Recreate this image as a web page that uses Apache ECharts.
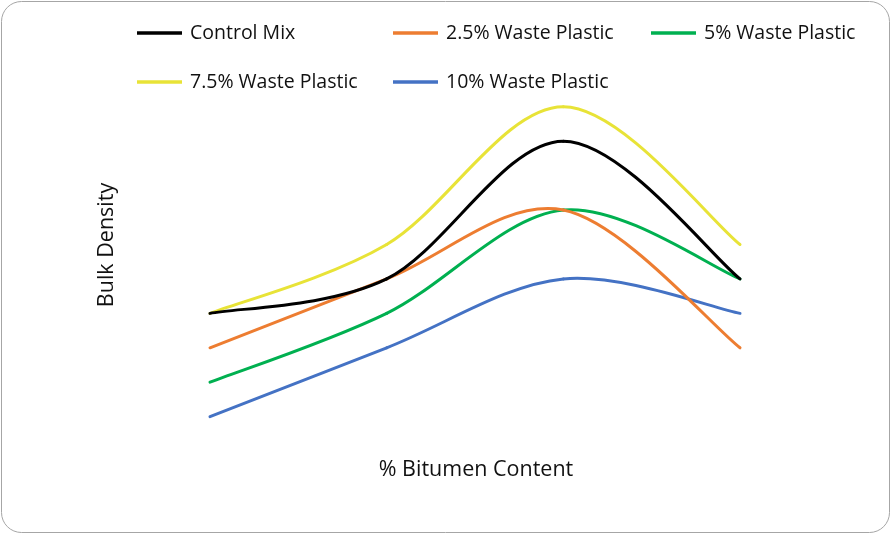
<!DOCTYPE html>
<html>
<head>
<meta charset="utf-8">
<script src="https://cdn.jsdelivr.net/npm/echarts@6/dist/echarts.min.js"></script>
<style>
  html, body { margin: 0; padding: 0; background: #ffffff; }
  #chart { width: 891px; height: 534px; }
</style>
</head>
<body>
<div id="chart"></div>
<script>
// Bitumen content steps (%), one point per step
const bitumenContent = ['4.5', '5.0', '5.5', '6.0'];

// Bulk density (g/cc) per mix
const controlMix   = [2.33, 2.34, 2.38, 2.34];
const plastic2_5   = [2.32, 2.34, 2.36, 2.32];
const plastic5     = [2.31, 2.33, 2.36, 2.34];
const plastic7_5   = [2.33, 2.35, 2.39, 2.35];
const plastic10    = [2.30, 2.32, 2.34, 2.33];

const seriesNames = ['Control Mix', '2.5% Waste Plastic', '5% Waste Plastic', '7.5% Waste Plastic', '10% Waste Plastic'];
const seriesData  = [controlMix, plastic2_5, plastic5, plastic7_5, plastic10];
const seriesColors = ['#000000', '#ED7D31', '#00B050', '#E8E337', '#4472C4'];

const FONT = 'Open Sans';
const TEXT_COLOR = '#111111';

// One legend block per entry so the entries line up in fixed columns
const legendSlots = [
  { left: 137, top: 22 },
  { left: 393, top: 22 },
  { left: 651, top: 22 },
  { left: 137, top: 71 },
  { left: 393, top: 71 }
];

// Spreadsheet-style smoothed line: each segment is a cubic Bezier whose
// control points follow the neighbouring points (Catmull-Rom, tension 1/6).
function smoothSegmentRenderer(values, color) {
  return function (params, api) {
    const i = params.dataIndex;
    const n = values.length;
    if (i >= n - 1) return null;
    const pt = (k) => {
      const kk = Math.max(0, Math.min(n - 1, k));
      return api.coord([kk, values[kk]]);
    };
    const p0 = pt(i - 1), p1 = pt(i), p2 = pt(i + 1), p3 = pt(i + 2);
    return {
      type: 'bezierCurve',
      shape: {
        x1: p1[0], y1: p1[1],
        x2: p2[0], y2: p2[1],
        cpx1: p1[0] + (p2[0] - p0[0]) / 6,
        cpy1: p1[1] + (p2[1] - p0[1]) / 6,
        cpx2: p2[0] - (p3[0] - p1[0]) / 6,
        cpy2: p2[1] - (p3[1] - p1[1]) / 6
      },
      style: { stroke: color, lineWidth: 3, fill: null, lineCap: 'round' }
    };
  };
}

const chart = echarts.init(document.getElementById('chart'), null, { renderer: 'canvas' });

const option = {
  backgroundColor: '#ffffff',
  animation: false,
  legend: seriesNames.map((name, i) => ({
    data: [name],
    left: legendSlots[i].left,
    top: legendSlots[i].top,
    padding: 0,
    icon: 'rect',
    itemWidth: 45,
    itemHeight: 3.5,
    selectedMode: false,
    textStyle: { fontFamily: FONT, fontSize: 19.5, color: TEXT_COLOR, lineHeight: 22, padding: [0, 0, 0, 3] }
  })),
  grid: { left: 210, right: 151, top: 72.3, bottom: 82.9, containLabel: false },
  xAxis: {
    type: 'category',
    data: bitumenContent,
    boundaryGap: false,
    axisLine: { show: false },
    axisTick: { show: false },
    axisLabel: { show: false },
    splitLine: { show: false }
  },
  yAxis: {
    type: 'value',
    min: 2.29,
    max: 2.40,
    axisLine: { show: false },
    axisTick: { show: false },
    axisLabel: { show: false },
    splitLine: { show: false }
  },
  series: seriesNames.map((name, i) => ({
    name: name,
    type: 'custom',
    data: seriesData[i].map((v, k) => [k, v]),
    encode: { x: 0, y: 1 },
    renderItem: smoothSegmentRenderer(seriesData[i], seriesColors[i]),
    clip: false,
    itemStyle: { color: seriesColors[i] },
    z: 10 - i
  })),
  graphic: [
    {
      type: 'rect',
      shape: { x: 1.5, y: 1.5, width: 888, height: 531, r: 20 },
      style: { fill: 'none', stroke: '#a6a6a6', lineWidth: 1 },
      silent: true
    },
    {
      type: 'text',
      x: 107, y: 245,
      rotation: Math.PI / 2,
      style: { text: 'Bulk Density', fontFamily: FONT, fontSize: 21.5, fill: TEXT_COLOR, align: 'center', verticalAlign: 'middle' }
    },
    {
      type: 'text',
      x: 476, y: 470,
      style: { text: '% Bitumen Content', fontFamily: FONT, fontSize: 21.5, fill: TEXT_COLOR, align: 'center', verticalAlign: 'middle' }
    }
  ]
};

chart.setOption(option);
</script>
</body>
</html>
